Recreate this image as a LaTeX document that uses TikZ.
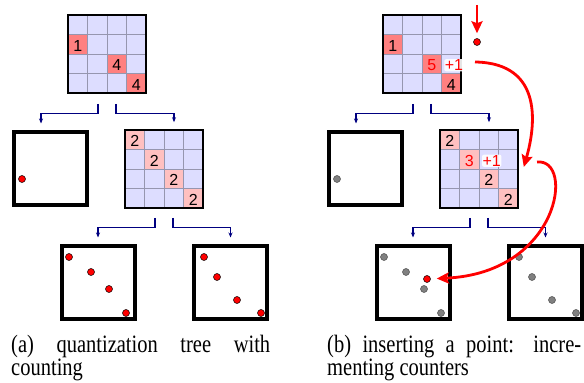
\documentclass[tikz,border=0pt]{standalone}
\usepackage{fontspec}
\setmainfont{Liberation Serif}[FakeStretch=0.82]
\newfontfamily\cntfont{Liberation Sans}
\usetikzlibrary{arrows.meta}

\definecolor{lav}{RGB}{221,221,255}
\definecolor{hotred}{RGB}{255,128,128}
\definecolor{warmpink}{RGB}{255,192,192}
\definecolor{cellgray}{RGB}{150,150,175}
\definecolor{navy}{RGB}{0,0,128}
\definecolor{ptgray}{RGB}{128,128,128}

\tikzset{
  gridbox/.style={draw=black, line width=1.6pt, minimum size=78pt, inner sep=0pt},
  leafbox/.style={draw=black, line width=4pt, minimum size=73pt, inner sep=0pt},
  cnt/.style={font=\cntfont\fontsize{16}{16}\selectfont, inner sep=0pt, yshift=-1.5pt},
  bump/.style={cnt, text=red, fill=white, fill opacity=0.9, text opacity=1, rounded corners=2pt, inner sep=0.6pt},
  redpt/.style={circle, draw=black, line width=0.5pt, fill=red, minimum size=7pt, inner sep=0pt},
  graypt/.style={redpt, draw=black!70, fill=ptgray},
  tree/.style={draw=navy, line width=1.2pt, -{Stealth[length=5pt,width=4pt]}},
  hop/.style={draw=red, line width=2.8pt, -{Stealth[length=12pt,width=11pt,inset=2pt]}},
  capt/.style={anchor=base west, inner sep=0pt, font=\fontsize{25}{23}\selectfont}
}

\begin{document}
\begin{tikzpicture}[x=1pt,y=1pt]
\useasboundingbox (0,0) rectangle (584,383);

% (a) root grid
\begin{scope}[shift={(68,290)}]
  \fill[lav] (0,0) rectangle (78,78);
  \fill[hotred] (0,39) rectangle ++(19.5,19.5);
  \fill[hotred] (39,19.5) rectangle ++(19.5,19.5);
  \fill[hotred] (58.5,0) rectangle ++(19.5,19.5);
  \draw[cellgray, line width=0.7pt] (0,0) grid[step=19.5] (78,78);
  \node[gridbox] (topA) at (39,39) {};
  \node[cnt] (topA1) at (9.75,48.75) {1};
  \node[cnt] (topA2) at (48.75,29.25) {4};
  \node[cnt] (topA3) at (68.25,9.75) {4};
\end{scope}

% (a) inner child grid
\begin{scope}[shift={(125,175)}]
  \fill[lav] (0,0) rectangle (78,78);
  \foreach \i in {1,...,4}
  \fill[warmpink] ({(\i-1)*19.5},{78-\i*19.5}) rectangle ++(19.5,19.5);
  \draw[cellgray, line width=0.7pt] (0,0) grid[step=19.5] (78,78);
  \node[gridbox] (midA) at (39,39) {};
  \foreach \i in {1,...,4}
  \node[cnt] (midA\i) at ({(\i-0.5)*19.5},{78-(\i-0.5)*19.5}) {2};
\end{scope}

% (a) leaves
\node[leafbox] (leftA) at (50.5,214) {};
\node[redpt] (leftAp) at (22,204) {};
\node[leafbox] (botlA) at (98,100) {};
\foreach \p [count=\k] in {(69,126),(91,111),(109,94),(126,70)}
\node[redpt] (botlA\k) at \p {};
\node[leafbox] (botrA) at (230.5,100) {};
\foreach \p [count=\k] in {(204,126),(217,106),(237,83),(261,70)}
\node[redpt] (botrA\k) at \p {};

% (a) tree edges
\draw[tree] ([xshift=-9pt,yshift=-10pt]topA.south) -- ++(0,-10) -| ([xshift=-9.5pt,yshift=7pt]leftA.north);
\draw[tree] ([xshift=9pt,yshift=-10pt]topA.south) -- ++(0,-10) -| ([xshift=10pt,yshift=7pt]midA.north);
\draw[tree] ([xshift=-9pt,yshift=-9pt]midA.south) -- ++(0,-10) -| ([yshift=7pt]botlA.north);
\draw[tree] ([xshift=9pt,yshift=-9pt]midA.south) -- ++(0,-10) -| ([yshift=7pt]botrA.north);

% (b) root grid
\begin{scope}[shift={(383,290)}]
  \fill[lav] (0,0) rectangle (78,78);
  \fill[hotred] (0,39) rectangle ++(19.5,19.5);
  \fill[hotred] (39,19.5) rectangle ++(19.5,19.5);
  \fill[hotred] (58.5,0) rectangle ++(19.5,19.5);
  \draw[cellgray, line width=0.7pt] (0,0) grid[step=19.5] (78,78);
  \node[gridbox] (topB) at (39,39) {};
  \node[cnt] (topB1) at (9.75,48.75) {1};
  \node[cnt, text=red] (topB2) at (48.75,29.25) {5};
  \node[bump] (topBp) at (71,29.25) {+1};
  \node[cnt] (topB3) at (68.25,9.75) {4};
\end{scope}

% (b) inner child grid
\begin{scope}[shift={(440,175)}]
  \fill[lav] (0,0) rectangle (78,78);
  \foreach \i in {1,...,4}
  \fill[warmpink] ({(\i-1)*19.5},{78-\i*19.5}) rectangle ++(19.5,19.5);
  \draw[cellgray, line width=0.7pt] (0,0) grid[step=19.5] (78,78);
  \node[gridbox] (midB) at (39,39) {};
  \node[cnt] (midB1) at (9.75,68.25) {2};
  \node[cnt, text=red] (midB2) at (29.25,48.75) {3};
  \node[bump] (midBp) at (51.75,48.75) {+1};
  \node[cnt] (midB3) at (48.75,29.25) {2};
  \node[cnt] (midB4) at (68.25,9.75) {2};
\end{scope}

% (b) leaves
\node[leafbox] (leftB) at (365.5,214) {};
\node[graypt] (leftBp) at (337,204) {};
\node[leafbox] (botlB) at (413,100) {};
\foreach \p [count=\k] in {(384,126),(406,111),(424,94),(441,70)}
\node[graypt] (botlB\k) at \p {};
\node[redpt] (newL) at (427,104) {};
\node[leafbox] (botrB) at (545.5,100) {};
\foreach \p [count=\k] in {(519,126),(532,106),(552,83),(576,70)}
\node[graypt] (botrB\k) at \p {};

% (b) tree edges
\draw[tree] ([xshift=-9pt,yshift=-10pt]topB.south) -- ++(0,-10) -| ([xshift=-9.5pt,yshift=7pt]leftB.north);
\draw[tree] ([xshift=9pt,yshift=-10pt]topB.south) -- ++(0,-10) -| ([xshift=10pt,yshift=7pt]midB.north);
\draw[tree] ([xshift=-9pt,yshift=-9pt]midB.south) -- ++(0,-10) -| ([yshift=7pt]botlB.north);
\draw[tree] ([xshift=9pt,yshift=-9pt]midB.south) -- ++(0,-10) -| ([yshift=7pt]botrB.north);

% (b) the new point going down the tree
\node[redpt] (newP) at (477,341) {};
\coordinate (drop) at (477,378);
\coordinate (hopA) at (475,321);
\coordinate (hopB) at (537,221);
\draw[hop, shorten >=5pt] (drop) -- (newP);
\draw[hop] (hopA) .. controls (545,320) and (535,255) .. ([xshift=5pt,yshift=2pt]midB.east);
\draw[hop, shorten >=6pt] (hopB) .. controls (575,225) and (560,110) .. (newL);

% captions
\node[capt] (capA) at (11,30) {\parbox[t]{259pt}{\sloppy(a) quantization tree with\linebreak counting}};
\node[capt] (capB) at (327,30) {\parbox[t]{254pt}{\sloppy(b) inserting a point: incre-\linebreak menting counters}};
\end{tikzpicture}
\end{document}
